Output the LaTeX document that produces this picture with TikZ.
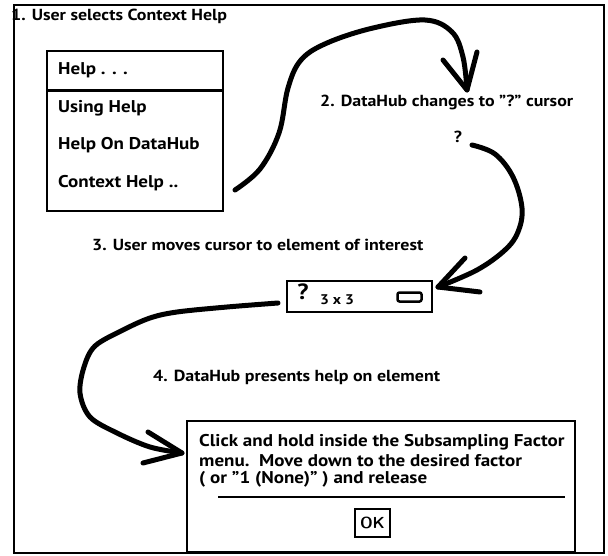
\documentclass[tikz,border=0pt]{standalone}
\usepackage{fontspec}
\setmainfont[FakeStretch=1.12]{PT Sans}
\begin{document}
\begin{tikzpicture}[x=1pt,y=-1pt,
  txt/.style={anchor=west, inner sep=0pt, font=\bfseries\fontsize{16}{18}\selectfont},
  menutxt/.style={txt, font=\bfseries\fontsize{17}{19}\selectfont},
  dlgtxt/.style={txt, font=\bfseries\fontsize{17}{19}\selectfont},
  frame/.style={draw, line width=1.8pt},
  box/.style={draw, line width=2.4pt},
  stroke/.style={line width=5pt, line cap=round, line join=round}]
\useasboundingbox (0,0) rectangle (608,556);
% outer frame
\node[txt] (t1) at (11,16) {1. User selects Context Help};
\draw[frame] (14,5) rectangle (604,553);
% menu
\node[box, minimum width=176pt, minimum height=160pt, inner sep=0pt] (menu) at (135,131) {};
\draw[line width=3pt] (47,91) -- (223,91);
\node[menutxt] (m0) at (58,70) {Help . . .};
\node[menutxt] (m1) at (58,108) {Using Help};
\node[menutxt] (m2) at (58,145) {Help On DataHub};
\node[menutxt] (m3) at (58,183) {Context Help ..};
% step 2
\node[txt] (t2) at (320,102) {2. DataHub changes to "?" cursor};
\node[inner sep=0pt, font=\bfseries\fontsize{16}{18}\selectfont] (q) at (458,137) {?};
% step 3
\node[txt] (t3) at (92,245) {3. User moves cursor to element of interest};
\node[box, line width=2pt, minimum width=145pt, minimum height=31pt, inner sep=0pt] (field) at (359.5,296.5) {};
\node[inner sep=0pt, font=\bfseries\fontsize{22}{24}\selectfont] (fq) at (303,292) {?};
\node[txt, anchor=center, font=\bfseries\fontsize{14}{16}\selectfont] (f33) at (337,300) {3 x 3};
\node[draw, line width=2.5pt, rounded corners=2pt, minimum width=24pt, minimum height=9pt, inner sep=0pt] (btn) at (409.5,297) {};
% step 4
\node[txt] (t4) at (153,377) {4. DataHub presents help on element};
\node[box, minimum width=388pt, minimum height=131pt, inner sep=0pt] (dlg) at (381,486.5) {};
\node[dlgtxt] (d1) at (199,442) {Click and hold inside the Subsampling Factor};
\node[dlgtxt] (d2) at (199,461) {menu.\ \ Move down to the desired factor};
\node[dlgtxt] (d3) at (199,479) {( or "1 (None)" ) and release};
\coordinate (sepL) at (218,497);
\coordinate (sepR) at (565,497);
\draw[line width=2pt] (sepL) -- (sepR);
\node[box, minimum width=35pt, minimum height=28pt, inner sep=0pt, font=\sffamily\bfseries\fontsize{16}{18}\selectfont] (ok) at (372.5,523) {OK};
% connectors
\coordinate (a1s) at (235,190);
\coordinate (a1t) at (467,90);
\coordinate (a1l) at (443,60);
\coordinate (a1r) at (477,52);
\draw[stroke] plot[smooth, tension=0.6] coordinates {(a1s) (260,169) (279,133) (288,88) (301,60) (327,43) (373,28) (425,20) (452,32) (463,57) (a1t)};
\draw[stroke] (a1l) -- (a1t) -- (a1r);
\coordinate (a2s) at (472,145);
\coordinate (a2t) at (438,287);
\coordinate (a2u) at (465,258);
\coordinate (a2d) at (480,292);
\draw[stroke] plot[smooth, tension=0.6] coordinates {(a2s) (495,154) (513,177) (522,208) (518,232) (505,250) (477,270) (a2t)};
\draw[stroke] (a2u) -- (a2t) -- (a2d);
\coordinate (a3s) at (278,303);
\coordinate (a3t) at (182,453);
\coordinate (a3u) at (148,432);
\coordinate (a3d) at (143,463);
\draw[stroke] plot[smooth, tension=0.55] coordinates {(a3s) (227,307) (177,312) (150,318) (123,330) (95,346) (84,367) (80,393) (90,417) (117,433) (150,447) (a3t)};
\draw[stroke] (a3u) -- (a3t) -- (a3d);
\end{tikzpicture}
\end{document}
